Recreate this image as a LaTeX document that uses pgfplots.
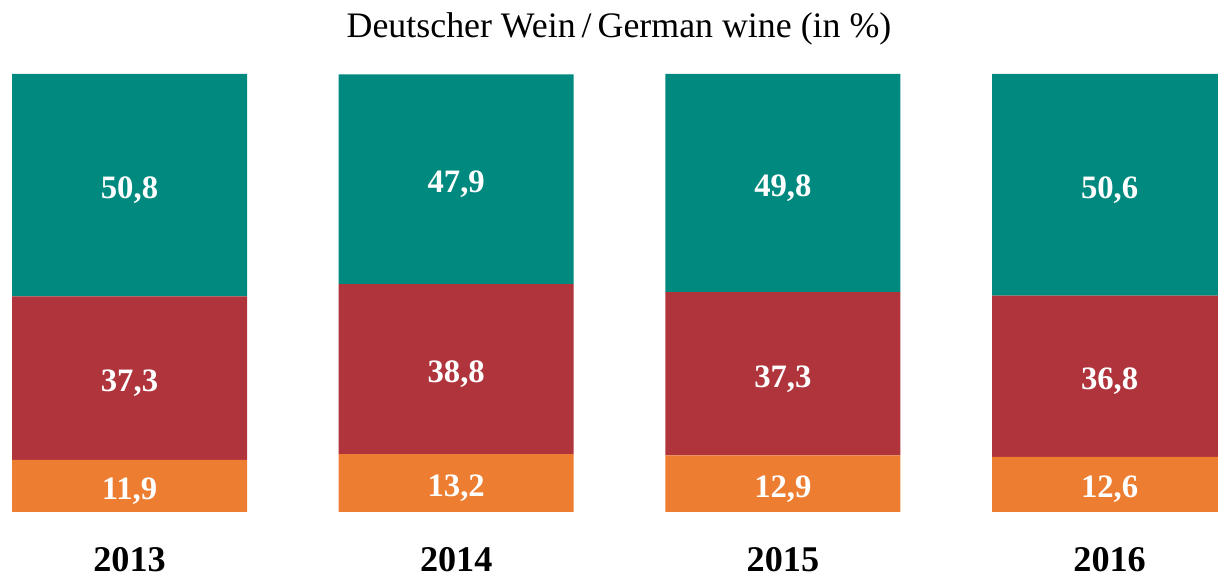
\documentclass[border=0pt]{standalone}
\usepackage{pgfplots}
\pgfplotsset{compat=1.18}
\usepackage{fontspec}
\setmainfont{Liberation Serif}
\definecolor{tealA}{RGB}{0,137,126}
\definecolor{redA}{RGB}{176,52,60}
\definecolor{orangeA}{RGB}{237,125,49}
\begin{document}
\begin{tikzpicture}
\begin{axis}[
  at={(0mm,6.3mm)}, anchor=south west,
  scale only axis, width=121.8mm, height=43.8mm,
  xmin=-0.3964, xmax=3.3318, ymin=0, ymax=100,
  enlargelimits=false, clip=false,
  ybar stacked, bar width=23.5mm,
  axis line style={draw=none},
  ytick=\empty,
  xtick={0,1,2,3}, xticklabels={2013,2014,2015,2016},
  major tick length=0pt,
  xticklabel style={font=\fontsize{10.3}{12}\selectfont\bfseries, anchor=base, yshift=-6.0mm},
  point meta=explicit symbolic,
  nodes near coords,
  every node near coord/.append style={font=\fontsize{9.3}{11}\selectfont\bfseries, text=white, anchor=center, yshift=-0.5mm},
]
\addplot[fill=orangeA, draw=none] coordinates {(0,11.9)[11,9] (1,13.2)[13,2] (2,12.9)[12,9] (3,12.6)[12,6]};
\addplot[fill=redA, draw=none] coordinates {(0,37.3)[37,3] (1,38.8)[38,8] (2,37.3)[37,3] (3,36.8)[36,8]};
\addplot[fill=tealA, draw=none] coordinates {(0,50.8)[50,8] (1,47.9)[47,9] (2,49.8)[49,8] (3,50.6)[50,6]};
\end{axis}
\node[anchor=base, font=\fontsize{10.2}{12}\selectfont] at (61.9mm,53.7mm) {Deutscher Wein\,/\,German wine (in \%)};
\pgfresetboundingbox
\path[use as bounding box] (0,0) rectangle (121.8mm,57.5mm);
\end{tikzpicture}
\end{document}
